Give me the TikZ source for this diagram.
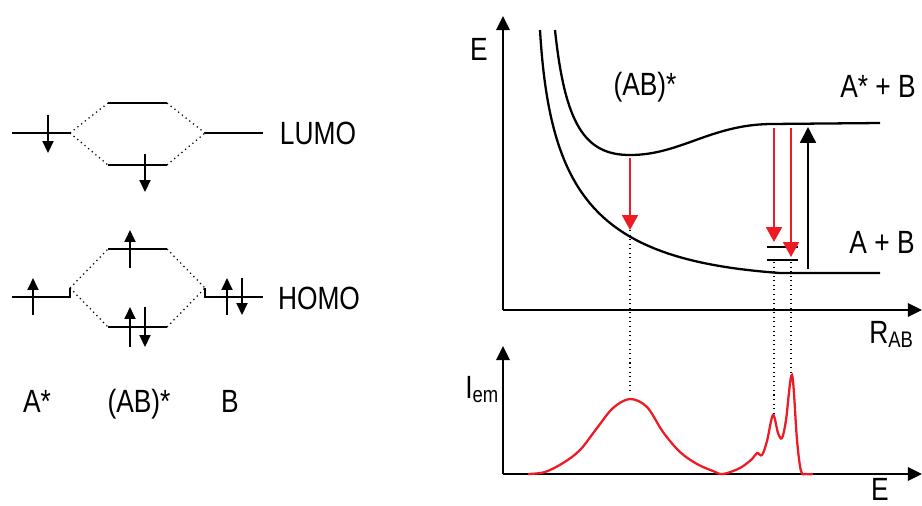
\documentclass[tikz,border=0pt]{standalone}
\usepackage{fontspec}
\setmainfont{Liberation Sans}
\usetikzlibrary{arrows.meta}
\definecolor{emred}{RGB}{237,28,36}

\tikzset{
  level/.style={line width=1.3pt},
  spin/.style={line width=1.3pt,-{Triangle[length=6.8pt,width=6.2pt]}},
  corr/.style={dotted,line width=0.7pt},
  axis/.style={line width=1.4pt,-{Triangle[length=8pt,width=7.5pt]}},
  pes/.style={line width=1.3pt},
  emit/.style={emred,line width=1.3pt,-{Triangle[length=8.5pt,width=9pt]}},
  absorb/.style={line width=1.3pt,-{Triangle[length=9pt,width=9pt]}},
  guide/.style={dotted,line width=0.6pt},
  spec/.style={emred,line width=1.3pt},
  lbl/.style={font=\fontsize{15}{18}\selectfont,inner sep=0pt,anchor=base,
              yscale=1.22,transform shape},
}

\begin{document}
\begin{tikzpicture}[x=0.02cm,y=-0.02cm]
\useasboundingbox (0,0) rectangle (922,505);

% --- MO scheme, LUMO row
\draw[level] (12,133) -- (70,133) coordinate (aL);
\draw[level] (108,103) coordinate (abLu1) -- (167,103) coordinate (abLu2);
\draw[level] (108,165) coordinate (abLl1) -- (167,165) coordinate (abLl2);
\draw[level] (205,133) coordinate (bL) -- (263,133);
\draw[corr] (aL) -- (abLu1) (aL) -- (abLl1) (abLu2) -- (bL) (abLl2) -- (bL);
% --- HOMO row
\draw[level] (12,297) -- (70,297) -- (70,288) coordinate (aH);
\draw[level] (108,249) coordinate (abHu1) -- (167,249) coordinate (abHu2);
\draw[level] (108,327) coordinate (abHl1) -- (167,327) coordinate (abHl2);
\draw[level] (205,288) coordinate (bH) -- (205,297) -- (263,297);
\draw[corr] (aH) -- (abHu1) (aH) -- (abHl1) (abHu2) -- (bH) (abHl2) -- (bH);
% electrons (x / from / to)
\foreach \x/\ya/\yb in {48/115/153, 145/154/192, 33/315/278, 130/268/230,
                        130/347/307, 145/307/347, 227/315/278, 242/278/315}{
  \draw[spin] (\x,\ya) -- (\x,\yb);
}
\node[lbl] (lumo) at (318,144) {LUMO};
\node[lbl] (homo) at (319,309) {HOMO};
\node[lbl] (astar) at (37,412) {A*};
\node[lbl] (abstar) at (139,412) {(AB)*};
\node[lbl] (bmol) at (230,412) {B};

% --- potential curves
\coordinate (O1) at (503,310);
\coordinate (Etop) at (503,16);
\coordinate (Rend) at (922,310);
\draw[axis] (O1) -- (Etop);
\draw[axis] (O1) -- (Rend);
\draw[pes] (555,30) .. controls (565,125) and (585,155) .. (630,155)
  .. controls (680,155) and (710,125) .. (770,124) -- (880,123);
\draw[pes] (540,30) .. controls (550,200) and (600,260) .. (780,273) -- (880,273);
\node[lbl] (Elab) at (479,60) {E};
\node[lbl] (exc) at (645,95) {(AB)*};
\node[lbl] (upper) at (878,97) {A* + B};
\node[lbl] (lower) at (882,253) {A + B};
\node[lbl,anchor=base west] (Rlab) at (869,343) {R\textsubscript{AB}};
% vibrational levels
\draw[level] (767,247) coordinate (v1a) -- (798,247) coordinate (v1b);
\draw[level] (767,260) coordinate (v0a) -- (798,260) coordinate (v0b);
% transitions
\draw[emit] (630,158) coordinate (e1) -- (630,230) coordinate (e1t);
\draw[emit] (774,128) coordinate (e2) -- (774,242) coordinate (e2t);
\draw[emit] (791,128) coordinate (e3) -- (791,257) coordinate (e3t);
\draw[absorb] (808,269) -- (808,127);

% --- emission spectrum
\coordinate (O2) at (503,474);
\coordinate (Itop) at (503,346);
\coordinate (Fend) at (922,474);
\draw[axis] (O2) -- (Itop);
\draw[axis] (O2) -- (Fend);
\node[lbl,anchor=base west] (Ilab) at (465,398) {I\textsubscript{em}};
\node[lbl] (Flab) at (880,500) {E};
\draw[spec] plot[smooth,tension=0.55] coordinates {(528,474) (545,472) (563,463) (580,450)
  (597,428) (613,408) (630,399) (647,407) (663,432) (680,452) (697,464) (713,471) (723,474)
  (740,468) (752,459) (757,453) (762,455) (767,441) (773,415) (778,433) (782,438)
  (786,420) (792,375) (797,440) (801,471) (806,474) (813,474)};
\coordinate (p1) at (630,392);
\coordinate (p2) at (774,413);
\coordinate (p3) at (791,375);
\draw[guide] (e1t) -- (p1);
\draw[guide] (774,262) -- (p2);
\draw[guide] (791,262) -- (p3);
\end{tikzpicture}
\end{document}
